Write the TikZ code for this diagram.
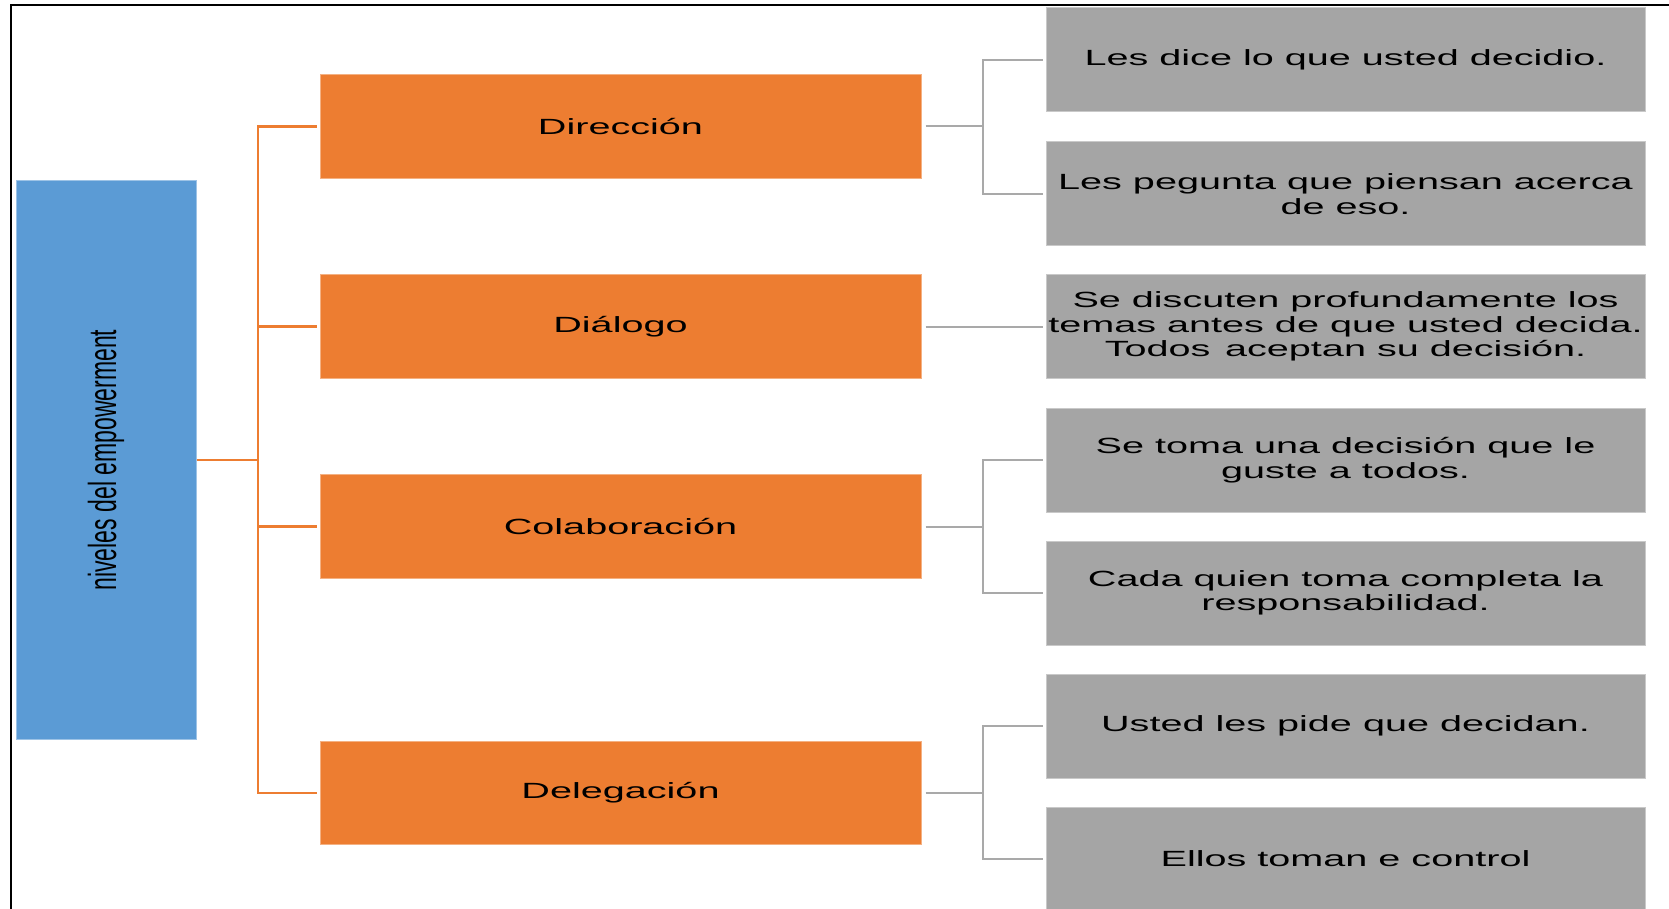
\documentclass[tikz,border=0pt]{standalone}
\usepackage{fontspec}
\usepackage{graphicx}
\newfontfamily\widesans[FakeStretch=1.8]{Liberation Sans}
\newfontfamily\plainsans{Liberation Sans}
\definecolor{orangebox}{HTML}{ED7D31}
\definecolor{bluebox}{HTML}{5B9BD5}
\definecolor{graybox}{HTML}{A5A5A5}
\definecolor{grayline}{HTML}{A9A9A9}
\begin{document}
\begin{tikzpicture}[x=1pt,y=-1pt,
  lvl/.style={rectangle, fill=orangebox, draw=orangebox!60!white, line width=1pt,
    minimum width=601pt, minimum height=103.5pt, inner sep=0pt, align=center,
    font=\widesans\fontsize{22}{24.5}\selectfont, text=black},
  leaf/.style={rectangle, fill=graybox, draw=graybox!60!white, line width=1pt,
    minimum width=599pt, minimum height=104pt, inner sep=0pt, align=center,
    font=\widesans\fontsize{22}{24.5}\selectfont, text=black},
  oline/.style={draw=orangebox, line width=2.2pt},
  gline/.style={draw=grayline, line width=2pt},
  frameline/.style={draw=black, line width=2.4pt}]
\useasboundingbox (0,0) rectangle (1669,909);
% frame
\coordinate (fl) at (11,909);
\coordinate (fc) at (11,5);
\coordinate (fr) at (1669,5);
\draw[frameline] (fl) -- (fc) -- (fr);
% root
\node[rectangle, fill=bluebox, draw=bluebox!60!white, line width=1pt,
  minimum width=180pt, minimum height=558pt, inner sep=0pt] (root) at (106,460) {};
\node[rotate=90, inner sep=0pt] (roottext) at (root.center)
  {\scalebox{1}[1.7]{\plainsans\fontsize{23}{23}\selectfont niveles del empowerment}};
% level nodes
\node[lvl] (dir) at (620.5,126.5) {Dirección};
\node[lvl] (dia) at (620.5,326.5) {Diálogo};
\node[lvl] (col) at (620.5,526.5) {Colaboración};
\node[lvl] (del) at (620.5,793) {Delegación};
% leaves
\node[leaf] (g1) at (1345.5,60) {Les dice lo que usted decidio.};
\node[leaf] (g2) at (1345.5,194) {Les pegunta que piensan acerca\\de eso.};
\node[leaf] (g3) at (1345.5,326.5) {Se discuten profundamente los\\temas antes de que usted decida.\\Todos\, aceptan su decisión.};
\node[leaf] (g4) at (1345.5,460) {Se toma una decisión que le\\guste a todos.};
\node[leaf] (g5) at (1345.5,593) {Cada quien toma completa la\\responsabilidad.};
\node[leaf] (g6) at (1345.5,726) {Usted les pide que decidan.};
\node[leaf] (g7) at (1345.5,859) {Ellos toman e control};
% orange connectors
\coordinate (ostem) at (258,0);
\draw[oline] (root.east) -- (root.east -| ostem);
\draw[oline] ([xshift=-3pt]dir.west) -- (dir.west -| ostem) -- (del.west -| ostem) -- ([xshift=-3pt]del.west);
\draw[oline] ([xshift=-3pt]dia.west) -- (dia.west -| ostem);
\draw[oline] ([xshift=-3pt]col.west) -- (col.west -| ostem);
% gray connectors
\coordinate (gstem) at (983,0);
\draw[gline] ([xshift=4pt]dir.east) -- (dir.east -| gstem);
\draw[gline] ([xshift=-3pt]g1.west) -- (g1.west -| gstem) -- (g2.west -| gstem) -- ([xshift=-3pt]g2.west);
\draw[gline] ([xshift=4pt]dia.east) -- ([xshift=-3pt]g3.west);
\draw[gline] ([xshift=4pt]col.east) -- (col.east -| gstem);
\draw[gline] ([xshift=-3pt]g4.west) -- (g4.west -| gstem) -- (g5.west -| gstem) -- ([xshift=-3pt]g5.west);
\draw[gline] ([xshift=4pt]del.east) -- (del.east -| gstem);
\draw[gline] ([xshift=-3pt]g6.west) -- (g6.west -| gstem) -- (g7.west -| gstem) -- ([xshift=-3pt]g7.west);
\end{tikzpicture}
\end{document}
